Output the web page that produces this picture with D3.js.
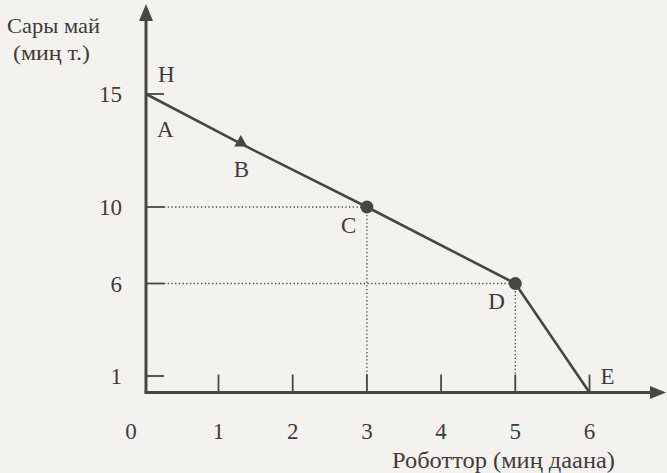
<!DOCTYPE html>
<html><head><meta charset="utf-8">
<script src="https://cdn.jsdelivr.net/npm/d3@7/dist/d3.min.js"></script>
<style>
html,body{margin:0;padding:0;background:#f4f2ee;}
svg{display:block;}
text{font-family:"Liberation Serif","DejaVu Serif",serif;fill:#3f3a3a;}
</style></head>
<body>
<svg id="c" width="667" height="473"></svg>
<script>
// ---- data ----
const pointNames = ["H", "B", "C", "D", "E"];
const robots = [0, 1.3, 3, 5, 6];          // thousand units
const butter = [15, 12.8, 10, 6, 0];       // thousand tonnes
const xTicks = [0, 1, 2, 3, 4, 5, 6];
const yTicks = [1, 6, 10, 15];
const yTitle = ["Сары май", "(миң т.)"];
const xTitle = "Роботтор  (миң даана)";

const ink = "#4a4545";
const svg = d3.select("#c");

// piecewise linear scales (the printed axis is not evenly spaced)
const x = d3.scaleLinear().domain([0, 1, 6]).range([146, 218.5, 589.5]);
const y = d3.scaleLinear().domain([0, 1, 6, 10, 15]).range([392.5, 376, 283.5, 207, 94]);

// dotted guides for C and D
[2, 3].forEach(i => {
  svg.append("path")
    .attr("d", `M${x(0)+18},${y(butter[i])}H${x(robots[i])}V${y(0)}`)
    .attr("fill", "none").attr("stroke", ink).attr("stroke-width", 1.3)
    .attr("stroke-dasharray", "1.3,2.4");
});

// axes
svg.append("line").attr("x1", x(0)).attr("y1", y(0)).attr("x2", x(0)).attr("y2", 18)
  .attr("stroke", ink).attr("stroke-width", 3);
svg.append("path").attr("d", `M${x(0)},4L${x(0)-7},21L${x(0)+7},21Z`).attr("fill", ink);
svg.append("line").attr("x1", x(0)-1.5).attr("y1", y(0)).attr("x2", 652).attr("y2", y(0))
  .attr("stroke", ink).attr("stroke-width", 3);
svg.append("path").attr("d", `M666,${y(0)}L650,${y(0)-6.5}L650,${y(0)+6.5}Z`).attr("fill", ink);

// y ticks
yTicks.forEach(v => {
  svg.append("line").attr("x1", x(0)).attr("x2", x(0)+18).attr("y1", y(v)).attr("y2", y(v))
    .attr("stroke", ink).attr("stroke-width", 1.8);
  svg.append("text").attr("x", 122).attr("y", y(v)+8).attr("text-anchor", "end")
    .attr("font-size", 23).text(v);
});
// x ticks
xTicks.forEach(v => {
  if (v > 0) svg.append("line").attr("x1", x(v)).attr("x2", x(v)).attr("y1", y(0)).attr("y2", y(0)-18)
    .attr("stroke", ink).attr("stroke-width", 1.8);
  svg.append("text").attr("x", v === 0 ? x(v)-15 : x(v)).attr("y", 439).attr("text-anchor", "middle")
    .attr("font-size", 23).text(v);
});

// axis titles
svg.append("text").attr("x", 7).attr("y", 33).attr("font-size", 22)
  .attr("textLength", 93).attr("lengthAdjust", "spacingAndGlyphs").text(yTitle[0]);
svg.append("text").attr("x", 13).attr("y", 60).attr("font-size", 22)
  .attr("textLength", 77).attr("lengthAdjust", "spacingAndGlyphs").text(yTitle[1]);
svg.append("text").attr("x", 392).attr("y", 468).attr("font-size", 23)
  .attr("textLength", 223).attr("lengthAdjust", "spacingAndGlyphs").text(xTitle);

// curve
const line = d3.line().x((d, i) => x(robots[i])).y((d, i) => y(butter[i]));
svg.append("path").datum(robots).attr("d", line)
  .attr("fill", "none").attr("stroke", ink).attr("stroke-width", 2.6);

// markers
svg.append("path").attr("d", d3.symbol(d3.symbolTriangle, 75)())
  .attr("transform", `translate(${x(robots[1])},${y(butter[1])-1})`).attr("fill", ink);
[2, 3].forEach(i => {
  svg.append("circle").attr("cx", x(robots[i])).attr("cy", y(butter[i])).attr("r", 6.5).attr("fill", ink);
});

// point labels
const labelOff = {H: [12, -12], B: [-7, 33], C: [-26, 26], D: [-27, 25], E: [11, -9]};
pointNames.forEach((n, i) => {
  svg.append("text").attr("x", x(robots[i]) + labelOff[n][0]).attr("y", y(butter[i]) + labelOff[n][1])
    .attr("font-size", 23).text(n);
});
svg.append("text").attr("x", 157).attr("y", 137).attr("font-size", 23).text("A");
</script>
</body></html>
